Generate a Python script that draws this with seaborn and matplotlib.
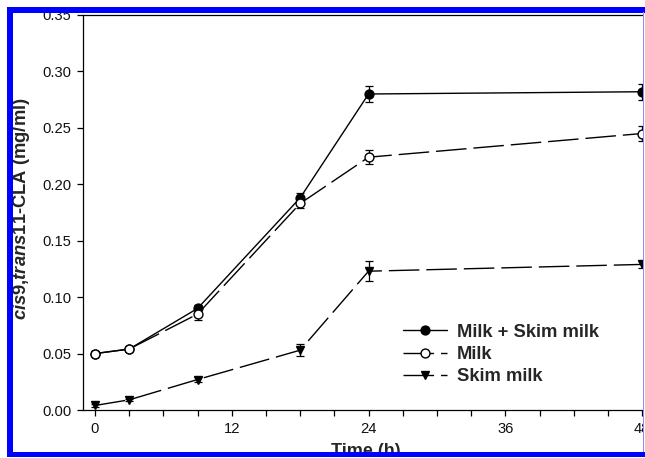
import matplotlib
matplotlib.use("Agg")
import matplotlib.pyplot as plt
import seaborn as sns
import pandas as pd
from matplotlib.patches import Rectangle
from matplotlib.ticker import MultipleLocator

# ---- data ----
time_h = [0, 3, 9, 18, 24, 48]
milk_skim = [0.050, 0.054, 0.090, 0.188, 0.280, 0.282]
milk_skim_err = [0.002, 0.002, 0.003, 0.004, 0.007, 0.007]
milk = [0.050, 0.054, 0.085, 0.183, 0.224, 0.245]
milk_err = [0.002, 0.002, 0.005, 0.004, 0.006, 0.0065]
skim = [0.004, 0.009, 0.027, 0.053, 0.123, 0.129]
skim_err = [0.001, 0.001, 0.002, 0.0055, 0.009, 0.003]
series_names = ["Milk + Skim milk", "Milk", "Skim milk"]
x_ticks = [0, 12, 24, 36, 48]
y_ticks = [0.00, 0.05, 0.10, 0.15, 0.20, 0.25, 0.30, 0.35]
y_tick_labels = ["0.00", "0.05", "0.10", "0.15", "0.20", "0.25", "0.30", "0.35"]

sns.set_style("ticks")
plt.rcParams["font.family"] = ["Liberation Sans", "DejaVu Sans"]
plt.rcParams["mathtext.fontset"] = "custom"
plt.rcParams["mathtext.rm"] = "Liberation Sans:bold"
plt.rcParams["mathtext.bf"] = "Liberation Sans:bold"
plt.rcParams["mathtext.it"] = "Liberation Sans:italic:bold"
plt.rcParams["mathtext.bfit"] = "Liberation Sans:italic:bold"

W, H = 645, 458
fig = plt.figure(figsize=(W / 100, H / 100), dpi=100)
fig.patch.set_facecolor("white")
ax = fig.add_axes([83 / W, 1 - 410 / H, (645 - 83) / W, (410 - 15) / H])
ax.set_facecolor("white")

styles = [
    dict(marker="o", mfc="black", mec="black", dashes=None),
    dict(marker="o", mfc="white", mec="black", dashes=(22, 5)),
    dict(marker="v", mfc="black", mec="black", dashes=(22, 5)),
]
values = [milk_skim, milk, skim]
errors = [milk_skim_err, milk_err, skim_err]

for name, vals, errs, st in zip(series_names, values, errors, styles):
    df = pd.DataFrame({"Time": time_h, "CLA": vals})
    sns.lineplot(x="Time", y="CLA", data=df, ax=ax, color="black", lw=1.0,
                 marker=st["marker"], markersize=6.4, markerfacecolor=st["mfc"],
                 markeredgecolor=st["mec"], markeredgewidth=1.0, label=name,
                 zorder=3)
    ln = ax.get_lines()[-1]
    if st["dashes"] is not None:
        ln.set_dashes(st["dashes"])
    ax.errorbar(time_h, vals, yerr=errs, fmt="none", ecolor="black",
                elinewidth=0.9, capsize=3.2, capthick=0.9, zorder=2)

ax.set_xlim(-1.05, 48.25)
ax.set_ylim(0, 0.35)
ax.set_xticks(x_ticks)
ax.set_xticklabels([str(t) for t in x_ticks])
ax.xaxis.set_minor_locator(MultipleLocator(3))
ax.set_yticks(y_ticks)
ax.set_yticklabels(y_tick_labels)
ax.tick_params(axis="both", which="both", direction="out", length=4,
               width=0.9, color="black", labelsize=10.6, pad=4.5,
               labelcolor="#111111")
for s in ["left", "bottom", "top"]:
    ax.spines[s].set_visible(True)
    ax.spines[s].set_color("black")
    ax.spines[s].set_linewidth(0.9)
ax.spines["right"].set_visible(False)
ax.set_xlabel("")
ax.set_ylabel("")

leg = ax.legend(loc="center left",
                bbox_to_anchor=((403 - 83) / 562, (410 - 354.5) / 395),
                frameon=False, borderpad=0, borderaxespad=0, handlelength=2.4,
                handletextpad=0.55, labelspacing=0.28,
                prop={"weight": "bold", "size": 13.2})

fig.text(21.5 / W, 1 - 209 / H,
         r"$\mathbfit{cis}$9,$\mathbfit{trans}$11-CLA (mg/ml)",
         rotation=90, ha="center", va="center", fontsize=13.2, fontweight="bold")
fig.text(366 / W, 1 - 456 / H, "Time (h)", ha="center", va="baseline",
         fontsize=13, fontweight="bold")


def px_rect(x0, y0, x1, y1, color, z=50):
    fig.add_artist(Rectangle((x0 / W, 1 - y1 / H), (x1 - x0) / W, (y1 - y0) / H,
                             transform=fig.transFigure, facecolor=color,
                             edgecolor="none", zorder=z))


# white surround outside the blue frame
px_rect(0, 0, W, 7, "white")
px_rect(0, 457, W, H, "white")
px_rect(0, 0, 7, H, "white")
px_rect(644, 0, W, H, "white")
# blue frame
px_rect(7, 7, W, 12.5, "#0000ff", 51)
px_rect(7, 452, W, 457, "#0000ff", 51)
px_rect(7, 7, 12.5, 457, "#0000ff", 51)
px_rect(643, 12, 644.3, 452, "#8c8cff", 51)

fig.savefig("out.png", dpi=100)
